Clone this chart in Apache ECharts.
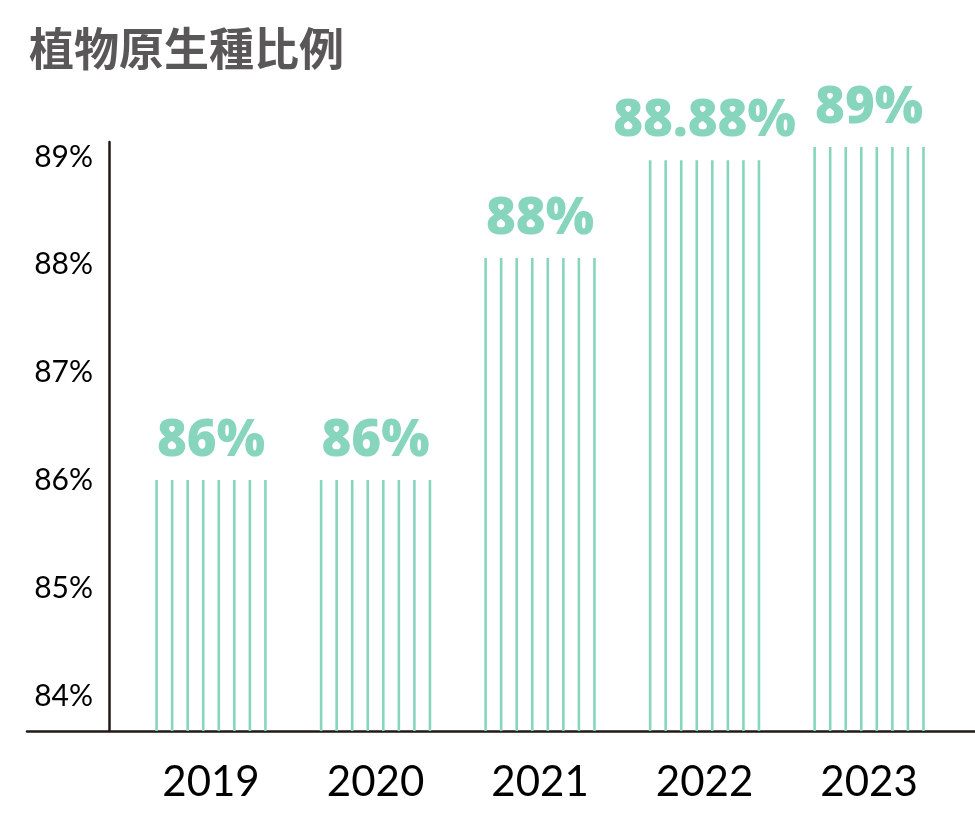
<!DOCTYPE html>
<html>
<head>
<meta charset="utf-8">
<script src="https://cdn.jsdelivr.net/npm/echarts@6/dist/echarts.min.js"></script>
<style>
html,body{margin:0;padding:0;background:#fff;}
#chart{width:975px;height:837px;}
</style>
</head>
<body>
<div id="chart"></div>
<script>
const titleText = '植物原生種比例';
const years = ['2019', '2020', '2021', '2022', '2023'];
const values = [86, 86, 88, 88.88, 89];
const yTicks = [84, 85, 86, 87, 88, 89];

const barColor = '#86d5bc';
const axisColor = '#231815';

const chart = echarts.init(document.getElementById('chart'));
chart.setOption({
  backgroundColor: '#fff',
  animation: false,
  title: {
    text: titleText,
    left: 24,
    top: 21,
    textStyle: {
      fontFamily: '"Noto Sans CJK TC"',
      fontSize: 45,
      fontWeight: 'bold',
      color: '#595757'
    }
  },
  grid: { left: 27, right: 0, top: 142, bottom: 106 },
  xAxis: {
    type: 'value',
    min: -1.1185,
    max: 4.644,
    axisLine: { show: true, onZero: false, lineStyle: { color: axisColor, width: 2.5 } },
    axisTick: { show: false },
    splitLine: { show: false },
    axisLabel: {
      customValues: years.map((y, i) => i),
      formatter: v => years[Math.round(v)],
      fontFamily: 'Lato',
      fontSize: 42,
      color: '#000',
      margin: 30
    }
  },
  yAxis: [
    {
      type: 'value',
      min: 83.675,
      max: 89.139,
      position: 'left',
      offset: -82,
      axisLine: { show: true, onZero: false, lineStyle: { color: axisColor, width: 2.5 } },
      axisTick: { show: false },
      splitLine: { show: false },
      axisLabel: {
        customValues: yTicks,
        formatter: v => v + '%',
        fontFamily: 'Lato',
        fontSize: 30,
        color: '#000',
        margin: 16
      }
    },
    {
      type: 'value',
      min: 83.739,
      max: 89.045,
      show: false
    }
  ],
  series: [{
    type: 'custom',
    xAxisIndex: 0,
    yAxisIndex: 1,
    data: values.map((v, i) => [i, v]),
    encode: { x: 0, y: 1 },
    renderItem: function (params, api) {
      const xi = api.value(0);
      const v = api.value(1);
      const top = api.coord([xi, v]);
      const cs = params.coordSys;
      const bottom = cs.y + cs.height;
      const children = [];
      const step = 15.55;
      for (let k = 0; k < 8; k++) {
        const cx = top[0] + (k - 3.5) * step;
        children.push({
          type: 'rect',
          shape: { x: cx - 1.3, y: top[1], width: 2.6, height: bottom - top[1] },
          style: { fill: barColor }
        });
      }
      children.push({
        type: 'text',
        style: {
          text: v + '%',
          x: top[0],
          y: top[1] - 13,
          align: 'center',
          verticalAlign: 'bottom',
          font: '900 51px "Noto Sans"',
          fill: barColor
        }
      });
      return { type: 'group', children: children };
    }
  }]
});
</script>
</body>
</html>
